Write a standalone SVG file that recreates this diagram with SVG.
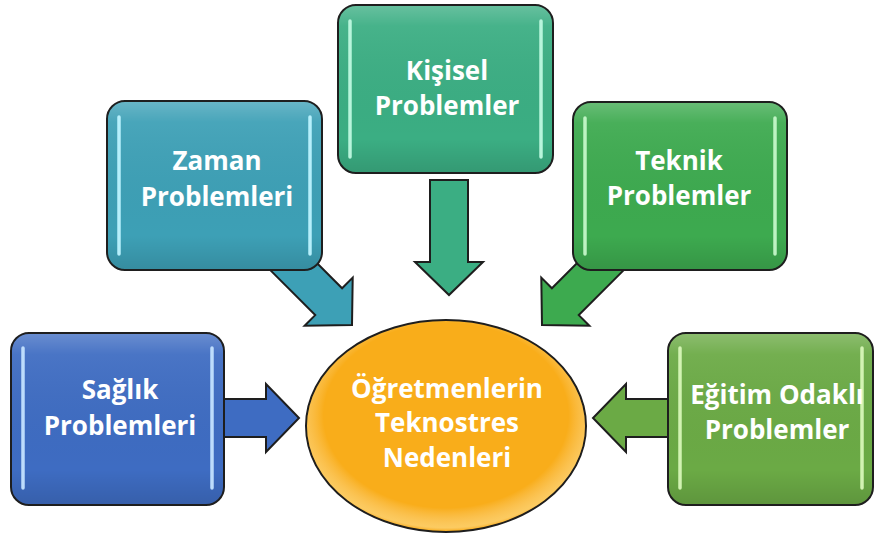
<svg xmlns="http://www.w3.org/2000/svg" width="876" height="535" viewBox="0 0 876 535">
  <defs>
    <linearGradient id="gloss" x1="0" y1="0" x2="0" y2="1">
      <stop offset="0" stop-color="#ffffff" stop-opacity="0.22"/>
      <stop offset="0.12" stop-color="#ffffff" stop-opacity="0.06"/>
      <stop offset="0.8" stop-color="#000000" stop-opacity="0"/>
      <stop offset="1" stop-color="#000000" stop-opacity="0.12"/>
    </linearGradient>
    <radialGradient id="egloss" cx="0.5" cy="0.45" r="0.55">
      <stop offset="0.8" stop-color="#ffffff" stop-opacity="0"/>
      <stop offset="0.97" stop-color="#ffe9a8" stop-opacity="0.5"/>
      <stop offset="1" stop-color="#ffffff" stop-opacity="0"/>
    </radialGradient>
    <path id="arrow" d="M-115,-19 L-33,-19 L-33,-34 L0,0 L-33,34 L-33,19 L-115,19 Z"/>
  </defs>
  <style>
    .box { stroke: #1e1e1e; stroke-width: 2; }
    .gl { fill: url(#gloss); stroke: none; }
    .hl { stroke-width: 3.5; stroke-linecap: round; fill: none; opacity: 0.95; }
    .arr { stroke: #1e1e1e; stroke-width: 2; stroke-linejoin: miter; }
    .lbl { font-family: "Open Sans", "DejaVu Sans", sans-serif; font-weight: bold; font-size: 26px; fill: #ffffff; text-anchor: middle; }
  </style>

  <rect width="876" height="535" fill="#ffffff"/>

  <g id="connectors">
    <use href="#arrow" class="arr" fill="#3DA0B6" transform="translate(352,325) rotate(45)"/>
    <use href="#arrow" class="arr" fill="#3BAE83" transform="translate(449,295) rotate(90)"/>
    <use href="#arrow" class="arr" fill="#3DAA4F" transform="translate(542,325) rotate(135)"/>
    <use href="#arrow" class="arr" fill="#3E6CC2" transform="translate(299,418)"/>
    <use href="#arrow" class="arr" fill="#6BAA45" transform="translate(593,418) rotate(180)"/>
  </g>

  <g id="zaman">
    <rect class="box" x="107" y="101" width="215" height="169" rx="18" fill="#3DA0B6"/>
    <rect class="gl" x="108" y="102" width="213" height="167" rx="17"/>
    <line class="hl" x1="119" y1="117" x2="119" y2="254" stroke="#bdf3ff"/>
    <line class="hl" x1="310" y1="117" x2="310" y2="254" stroke="#bdf3ff"/>
    <text class="lbl" x="217" y="170">Zaman</text>
    <text class="lbl" x="217" y="206">Problemleri</text>
  </g>

  <g id="kisisel">
    <rect class="box" x="338" y="5" width="215" height="168" rx="18" fill="#3BAE83"/>
    <rect class="gl" x="339" y="6" width="213" height="166" rx="17"/>
    <line class="hl" x1="350" y1="21" x2="350" y2="157" stroke="#bff9e0"/>
    <line class="hl" x1="541" y1="21" x2="541" y2="157" stroke="#bff9e0"/>
    <text class="lbl" x="447" y="80">Kişisel</text>
    <text class="lbl" x="447" y="115">Problemler</text>
  </g>

  <g id="teknik">
    <rect class="box" x="573" y="102" width="214" height="168" rx="18" fill="#3DAA4F"/>
    <rect class="gl" x="574" y="103" width="212" height="166" rx="17"/>
    <line class="hl" x1="585" y1="118" x2="585" y2="254" stroke="#c4f7c8"/>
    <line class="hl" x1="775" y1="118" x2="775" y2="254" stroke="#c4f7c8"/>
    <text class="lbl" x="679" y="170">Teknik</text>
    <text class="lbl" x="679" y="205">Problemler</text>
  </g>

  <g id="saglik">
    <rect class="box" x="11" y="333" width="213" height="172" rx="18" fill="#3E6CC2"/>
    <rect class="gl" x="12" y="334" width="211" height="170" rx="17"/>
    <line class="hl" x1="23" y1="348" x2="23" y2="488" stroke="#c4e3ff"/>
    <line class="hl" x1="212" y1="348" x2="212" y2="488" stroke="#c4e3ff"/>
    <text class="lbl" x="120" y="399">Sağlık</text>
    <text class="lbl" x="120" y="435">Problemleri</text>
  </g>

  <g id="egitim">
    <rect class="box" x="668" y="333" width="205" height="172" rx="18" fill="#6BAA45"/>
    <rect class="gl" x="669" y="334" width="203" height="170" rx="17"/>
    <line class="hl" x1="680" y1="348" x2="680" y2="488" stroke="#d8f7b8"/>
    <line class="hl" x1="862" y1="348" x2="862" y2="488" stroke="#d8f7b8"/>
    <text class="lbl" x="777" y="404">Eğitim Odaklı</text>
    <text class="lbl" x="777" y="439">Problemler</text>
  </g>

  <g id="merkez">
    <ellipse cx="446" cy="426" rx="140" ry="106" fill="#F9AD1A" stroke="#1e1e1e" stroke-width="2"/>
    <ellipse cx="446" cy="426" rx="139" ry="105" fill="url(#egloss)"/>
    <text class="lbl" x="447" y="398">Öğretmenlerin</text>
    <text class="lbl" x="447" y="432">Teknostres</text>
    <text class="lbl" x="447" y="467">Nedenleri</text>
  </g>
</svg>
